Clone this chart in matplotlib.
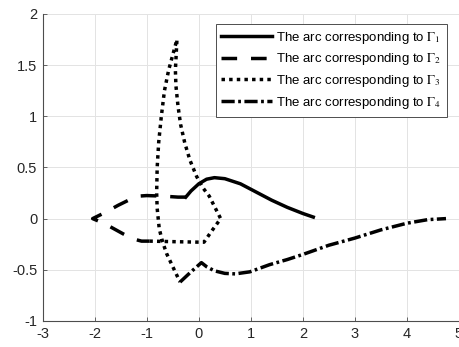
import matplotlib
matplotlib.use("Agg")
import matplotlib.pyplot as plt

plt.rcParams['font.family'] = ['Liberation Sans', 'DejaVu Sans']
plt.rcParams['mathtext.fontset'] = 'stix'

# Data
g1_x = [-0.25, -0.15, 0.0, 0.15, 0.3, 0.5, 0.8, 1.1, 1.4, 1.7, 2.0, 2.2]
g1_y = [0.21, 0.27, 0.34, 0.385, 0.40, 0.39, 0.34, 0.26, 0.18, 0.11, 0.05, 0.015]

g2_x = [-0.25, -0.4, -0.7, -1.0, -1.15, -1.35, -1.55, -1.8, -2.04,
        -1.9, -1.7, -1.45, -1.25, -1.1, -0.95]
g2_y = [0.21, 0.21, 0.22, 0.225, 0.22, 0.18, 0.13, 0.06, 0.0,
        -0.03, -0.08, -0.15, -0.2, -0.22, -0.22]

g3_x = [-0.95, -0.5, 0.0, 0.1, 0.25, 0.42, 0.3, 0.2, 0.08, -0.04, -0.17, -0.27,
        -0.35, -0.4, -0.44, -0.45, -0.43, -0.42, -0.5, -0.58, -0.66, -0.72,
        -0.77, -0.8, -0.81, -0.8, -0.76, -0.7, -0.62, -0.5, -0.36]
g3_y = [-0.22, -0.225, -0.23, -0.23, -0.12, 0.0, 0.12, 0.22, 0.3, 0.41, 0.57, 0.74,
        0.92, 1.1, 1.3, 1.45, 1.65, 1.75, 1.6, 1.45, 1.25, 1.0,
        0.75, 0.5, 0.25, 0.1, -0.1, -0.22, -0.34, -0.47, -0.62]

g4_x = [-0.36, -0.15, 0.05, 0.15, 0.3, 0.5, 0.7, 0.98, 1.36, 1.7, 2.0, 2.5,
        3.0, 3.5, 4.0, 4.4, 4.75]
g4_y = [-0.62, -0.52, -0.43, -0.47, -0.51, -0.535, -0.54, -0.52, -0.45, -0.40,
        -0.35, -0.26, -0.19, -0.11, -0.045, -0.01, 0.0]

labels = [r'The arc corresponding to $\mathrm{\Gamma}_1$',
          r'The arc corresponding to $\mathrm{\Gamma}_2$',
          r'The arc corresponding to $\mathrm{\Gamma}_3$',
          r'The arc corresponding to $\mathrm{\Gamma}_4$']

x_ticks = [-3, -2, -1, 0, 1, 2, 3, 4, 5]
y_ticks = [-1, -0.5, 0, 0.5, 1, 1.5, 2]
y_ticklabels = ['-1', '-0.5', '0', '0.5', '1', '1.5', '2']

fig = plt.figure(figsize=(4.59, 3.47), dpi=100)
ax = fig.add_axes([0.093, 0.075, 0.907, 0.885])

lw = 2.5
ax.plot(g1_x, g1_y, color='black', lw=lw, linestyle='-', label=labels[0],
        solid_joinstyle='round')
ax.plot(g2_x, g2_y, color='black', lw=lw, linestyle=(0, (4.5, 4)), label=labels[1],
        dash_capstyle='butt')
ax.plot(g3_x, g3_y, color='black', lw=lw, linestyle=(0, (1, 1.2)), label=labels[2],
        dash_capstyle='butt')
ax.plot(g4_x, g4_y, color='black', lw=lw, linestyle=(0, (3.8, 1.0, 0.8, 1.0)), label=labels[3],
        dash_capstyle='butt')

ax.set_xlim(-3, 5)
ax.set_ylim(-1, 2)
ax.set_xticks(x_ticks)
ax.set_xticklabels([str(t) for t in x_ticks])
ax.set_yticks(y_ticks)
ax.set_yticklabels(y_ticklabels)

ax.grid(True, color='#e3e3e3', lw=0.7)
ax.set_axisbelow(True)
for s in ['top', 'right']:
    ax.spines[s].set_visible(False)
for s in ['left', 'bottom']:
    ax.spines[s].set_color('#4d4d4d')
    ax.spines[s].set_linewidth(0.8)
ax.tick_params(direction='in', length=3, width=0.6, color='#4d4d4d',
               labelsize=10.5, labelcolor='#262626', pad=4)

leg = ax.legend(loc='upper right', bbox_to_anchor=(0.971, 0.967), borderaxespad=0,
                fontsize=9.5, handlelength=3.8, handletextpad=0.3,
                labelspacing=0.42, borderpad=0.45, fancybox=False, framealpha=1,
                edgecolor='#4d4d4d')
leg.get_frame().set_linewidth(0.7)

fig.savefig('out.png', dpi=100)
